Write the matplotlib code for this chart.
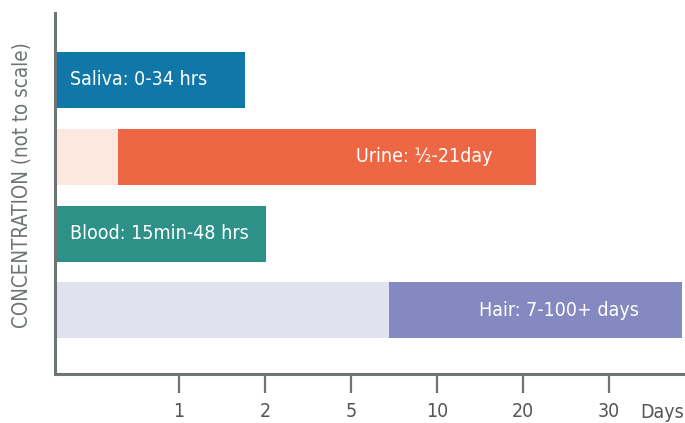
import matplotlib.pyplot as plt
from matplotlib.transforms import offset_copy

# 数据（横轴按刻度序号，非真实比例）
samples = ['Saliva', 'Urine', 'Blood', 'Hair']
labels = ['Saliva: 0-34 hrs', 'Urine: ½-21day', 'Blood: 15min-48 hrs', 'Hair: 7-100+ days']
faint_end = [0, 0.29, 0, 3.44]          # 浅色底条结束位置
bar_start = [-0.442, 0.29, -0.442, 3.44]
bar_end = [1.767, 5.15, 2.01, 6.85]
tick_labels = ['1', '2', '5', '10', '20', '30']
tick_pos = [1, 2, 3, 4, 5, 6]

dark = ['#1077a8', '#ee6744', '#2e9188', '#8489c2']
light = ['#ffffff', '#fce8df', '#ffffff', '#e0e2f0']
label_side = ['left', 'right', 'left', 'right']

plt.rcParams['font.family'] = ['DejaVu Sans']
plt.rcParams['font.stretch'] = 'condensed'
axis_grey = '#6d7574'

W, H = 685, 423
fig = plt.figure(figsize=(W / 100, H / 100), dpi=100)
ax = fig.add_axes([55 / W, (H - 374) / H, (685 - 55) / W, (374 - 13) / H])

x0, x1 = -0.442, 6.884
ys = list(range(len(samples)))
for i, y in enumerate(ys):
    if faint_end[i] > x0:
        ax.barh(y, faint_end[i] - x0, left=x0, height=0.73, color=light[i], lw=0)
    ax.barh(y, bar_end[i] - bar_start[i], left=bar_start[i], height=0.73,
            color=dark[i], lw=0)
    if label_side[i] == 'left':
        tr = offset_copy(ax.transData, fig=fig, x=11, y=0, units='points')
        ax.text(x0, y, labels[i], transform=tr, ha='left', va='center',
                color='white', fontsize=14)
    else:
        tr = offset_copy(ax.transData, fig=fig, x=-31, y=0, units='points')
        ax.text(bar_end[i], y, labels[i], transform=tr, ha='right', va='center',
                color='white', fontsize=14)

ax.set_xlim(x0, x1)
ax.set_ylim(3.828, -0.872)
ax.set_yticks([])
ax.set_xticks(tick_pos)
ax.set_xticklabels(tick_labels)
ax.tick_params(axis='x', direction='out', length=14, width=1.6, color=axis_grey,
               labelcolor='#555555', labelsize=14, pad=6)
for s in ['top', 'right']:
    ax.spines[s].set_visible(False)
for s in ['left', 'bottom']:
    ax.spines[s].set_color(axis_grey)
    ax.spines[s].set_linewidth(2.2)

ax.text(662 / W, (H - 412) / H, 'Days', transform=fig.transFigure, ha='center',
        va='center', color='#555555', fontsize=14)
ax.text(22 / W, (H - 185) / H, 'CONCENTRATION (not to scale)', transform=fig.transFigure,
        rotation=90, ha='center', va='center', color='#6d7574', fontsize=14.8)

fig.savefig('out.png', dpi=100)
